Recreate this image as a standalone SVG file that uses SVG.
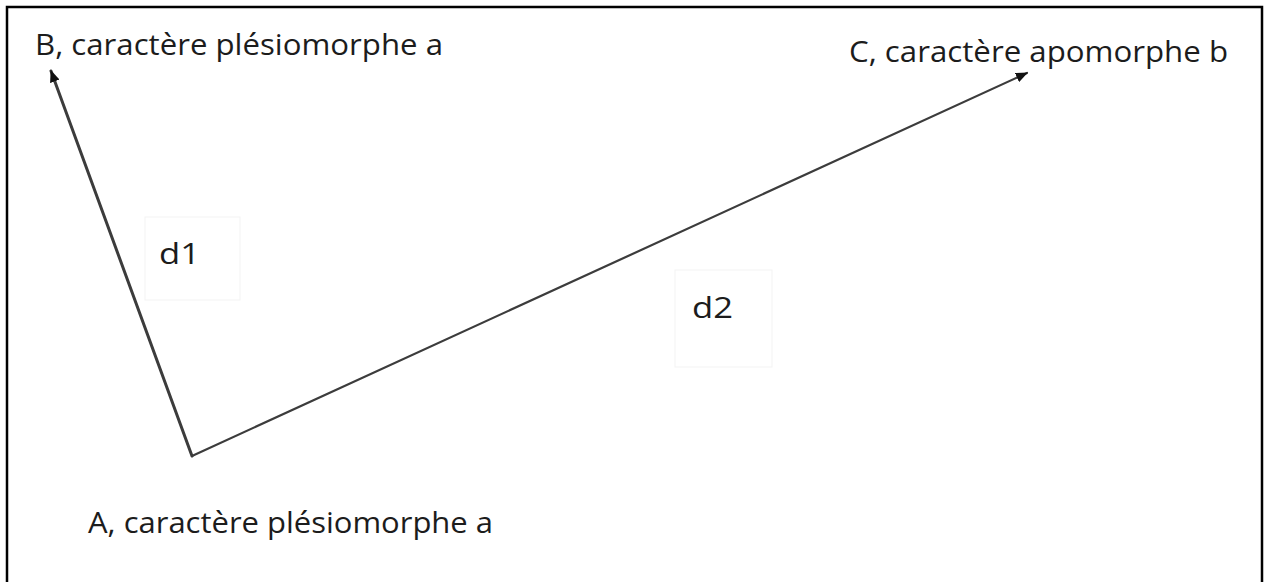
<svg xmlns="http://www.w3.org/2000/svg" width="1264" height="582" viewBox="0 0 1264 582">
  <style>
    .lbl { font-family: "Open Sans", "Noto Sans", "Liberation Sans", sans-serif; font-size: 30px; fill: #1c1c1c; }
    .edge { stroke: #3c3c3c; fill: none; stroke-linecap: round; }
    .frame { stroke: #000; stroke-width: 2.5; fill: none; }
    .ghost { fill: #fff; stroke: #f3f3f3; stroke-width: 1; }
  </style>
  <defs>
    <marker id="arr" viewBox="0 0 12 10" refX="11" refY="5" markerWidth="12" markerHeight="10" markerUnits="userSpaceOnUse" orient="auto">
      <path d="M0,0 L12,5 L0,10 z" fill="#111"/>
    </marker>
  </defs>
  <rect width="1264" height="582" fill="#fff"/>
  <path class="frame" d="M7,600 L7,7 L1262,7 L1262,600"/>

  <g id="connectors">
    <line class="edge" x1="192" y1="456" x2="51" y2="71" stroke-width="3" marker-end="url(#arr)"/>
    <line class="edge" x1="192" y1="456" x2="1027" y2="73" stroke-width="2.2" marker-end="url(#arr)"/>
  </g>

  <g id="node-B">
    <text class="lbl" x="35" y="55" textLength="408" lengthAdjust="spacingAndGlyphs">B, caractère plésiomorphe a</text>
  </g>
  <g id="node-C">
    <text class="lbl" x="849" y="62" textLength="379" lengthAdjust="spacingAndGlyphs">C, caractère apomorphe b</text>
  </g>
  <g id="node-A">
    <text class="lbl" x="88" y="533" textLength="405" lengthAdjust="spacingAndGlyphs">A, caractère plésiomorphe a</text>
  </g>
  <g id="label-d1">
    <rect class="ghost" x="145" y="217" width="95" height="83"/>
    <text class="lbl" x="159" y="264" textLength="41" lengthAdjust="spacingAndGlyphs">d1</text>
  </g>
  <g id="label-d2">
    <rect class="ghost" x="675" y="270" width="97" height="97"/>
    <text class="lbl" x="692" y="318" textLength="41" lengthAdjust="spacingAndGlyphs">d2</text>
  </g>
</svg>
